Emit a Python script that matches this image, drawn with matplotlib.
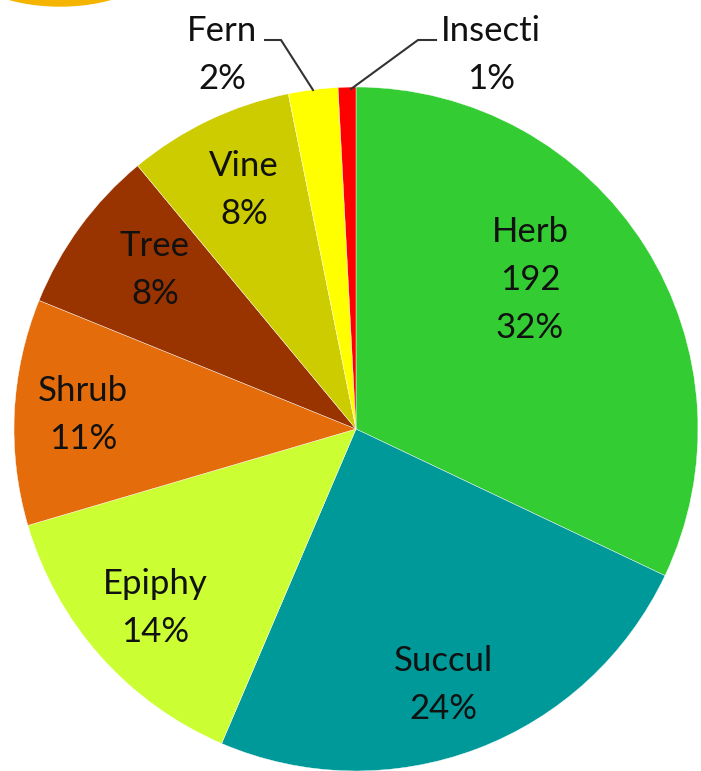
import matplotlib.pyplot as plt
from matplotlib.patches import Ellipse

# growth forms, counts (Herb = 192 -> 32%)
names = ["Herb", "Succul", "Epiphy", "Shrub", "Tree", "Vine", "Fern", "Insecti"]
counts = [192, 146, 84, 64, 47, 47, 14, 5]
colors = ["#33CC33", "#009999", "#CCFF33", "#E46C0A", "#993300", "#CCCC00", "#FFFF00", "#FF0000"]

# label centres (pixels, y measured from top)
label_pos = [(530, 280), (443, 685), (155, 608), (83, 415), (155, 270), (244, 190), (222, 55), (491, 55)]

W, H = 701, 771
fig = plt.figure(figsize=(W / 100, H / 100), dpi=100)
ax = fig.add_axes([0, 0, 1, 1])

cx, cy, R = 356, H - 429, 342
ax.pie(counts, colors=colors, startangle=90, counterclock=False,
       center=(cx, cy), radius=R, frame=True,
       wedgeprops=dict(linewidth=0.3, edgecolor="white"))
ax.set_xlim(0, W)
ax.set_ylim(0, H)
ax.axis("off")

# bit of an orange shape cut by the top edge
ax.add_patch(Ellipse((60, H + 44), 205, 100, color="#F5B400", clip_on=True))

total = sum(counts)
font = dict(family=["Lato", "DejaVu Sans"], size=25, color="#111111")
for i, (name, n) in enumerate(zip(names, counts)):
    pct = f"{round(100 * n / total)}%"
    txt = f"{name}\n{n}\n{pct}" if name == "Herb" else f"{name}\n{pct}"
    x, y = label_pos[i]
    ax.text(x, H - y, txt, ha="center", va="center", linespacing=1.6, **font)

# leader lines for the two thin slices
ax.plot([265, 281, 313], [H - 40, H - 40, H - 90], color="#333333", lw=1.5)
ax.plot([351, 418, 436], [H - 89, H - 40, H - 40], color="#333333", lw=1.5)

fig.savefig("out.png", dpi=100)
